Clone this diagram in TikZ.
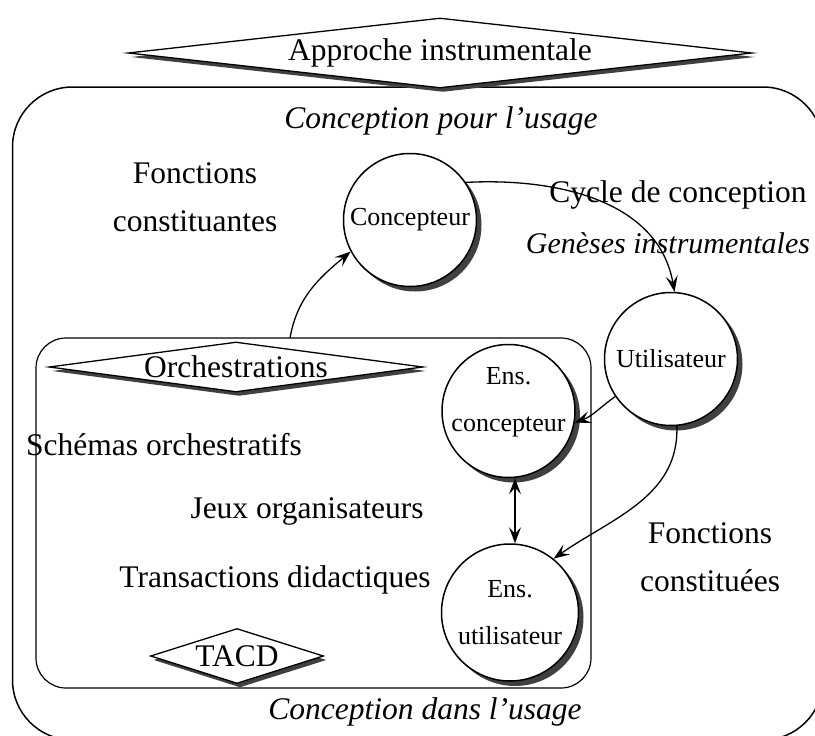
\documentclass[tikz,border=0pt]{standalone}
\usepackage{fontspec}
\setmainfont{Liberation Serif}
\usetikzlibrary{shapes.geometric,shadows,arrows.meta}
\definecolor{shad}{RGB}{64,64,64}
\tikzset{
 big/.style={font=\fontsize{31.5}{48}\selectfont, inner sep=0pt},
 bigit/.style={font=\fontsize{31.5}{48}\selectfont\itshape, inner sep=0pt},
 circ/.style={circle, draw, line width=1.5pt, fill=white, minimum size=133pt, inner sep=0pt, align=center,
   font=\fontsize{26}{47}\selectfont,
   drop shadow={shadow xshift=5pt, shadow yshift=-5pt, fill=shad, opacity=1}},
 circlbl/.style={align=center, inner sep=0pt, font=\fontsize{26}{47}\selectfont},
 dia/.style={diamond, draw, line width=1.3pt, fill=white, inner sep=0pt,
   drop shadow={shadow xshift=3pt, shadow yshift=-4pt, fill=shad, opacity=1}},
 frame/.style={draw, rectangle, line width=1.5pt},
 tip/.tip={Stealth[length=16pt,width=12pt,inset=6.5pt]},
 conn/.style={line width=1.3pt, -tip},
 dconn/.style={line width=1.3pt, tip-tip},
}
\begin{document}
\begin{tikzpicture}[x=1pt,y=1pt]
\useasboundingbox (0,0) rectangle (815,-736);
\clip (0,0) rectangle (815,-736);
\fill[white] (0,0) rectangle (815,-736);
% outer frame
\node[frame, rounded corners=60pt, minimum width=810.5pt, minimum height=653pt, inner sep=0pt] (outer) at (417.75,-413.5) {};
% top diamond
\node[dia, minimum width=624pt, minimum height=70pt] (appr) at (440,-53) {};
\node[big] (apprl) at (appr) {Approche instrumentale};
% inner frame
\node[frame, rounded corners=30pt, line width=1.2pt, minimum width=555pt, minimum height=350pt, inner sep=0pt] (inner) at (313.5,-513) {};
\coordinate (orchstart) at (290,-338);
% orchestration diamond
\node[dia, minimum width=374pt, minimum height=50pt] (orch) at (236,-367) {};
\node[big] (orchl) at (orch) {Orchestrations};
% TACD diamond
\node[dia, minimum width=173pt, minimum height=55pt] (tacd) at (237,-656) {};
\node[big] (tacdl) at (tacd) {TACD};
% texts
\node[bigit] (cpu) at (441,-121) {Conception pour l’usage};
\node[big, align=center] (fcst) at (195,-197) {Fonctions\\constituantes};
\node[big] (cyc) at (678,-195) {Cycle de conception};
\node[bigit, font=\fontsize{30}{48}\selectfont\itshape] (gen) at (668,-243) {Genèses instrumentales};
\node[big] (schem) at (164,-445) {Schémas orchestratifs};
\node[big] (jeux) at (307,-511) {Jeux organisateurs};
\node[big] (trans) at (275,-580) {Transactions didactiques};
\node[big, align=center] (fcsd) at (710,-557) {Fonctions\\constituées};
\node[bigit] (cdu) at (425,-712) {Conception dans l’usage};
% circles
\node[circ] (conc) at (410,-220) {Concepteur};
\node[circ] (util) at (671,-359) {Utilisateur};
\node[circ] (ensc) at (508.5,-411) {};
\node[circlbl] (ensclbl) at ([yshift=9pt]ensc.center) {Ens.\\concepteur};
\node[circ, minimum size=137pt] (ensu) at (510,-612.5) {Ens.\\utilisateur};
% connectors
\draw[conn] (orchstart) to[out=80, in=220] (conc.208);
\draw[conn] (conc.34) to[out=3, in=100] (util.87);
\draw[conn] (util.214) to[out=215, in=20] (ensc.350);
\draw[conn] (util.275) to[out=272, in=35] (ensu.51);
\draw[dconn] (ensc.south -| 515,0) -- (ensu.north -| 515,0);
\end{tikzpicture}
\end{document}
